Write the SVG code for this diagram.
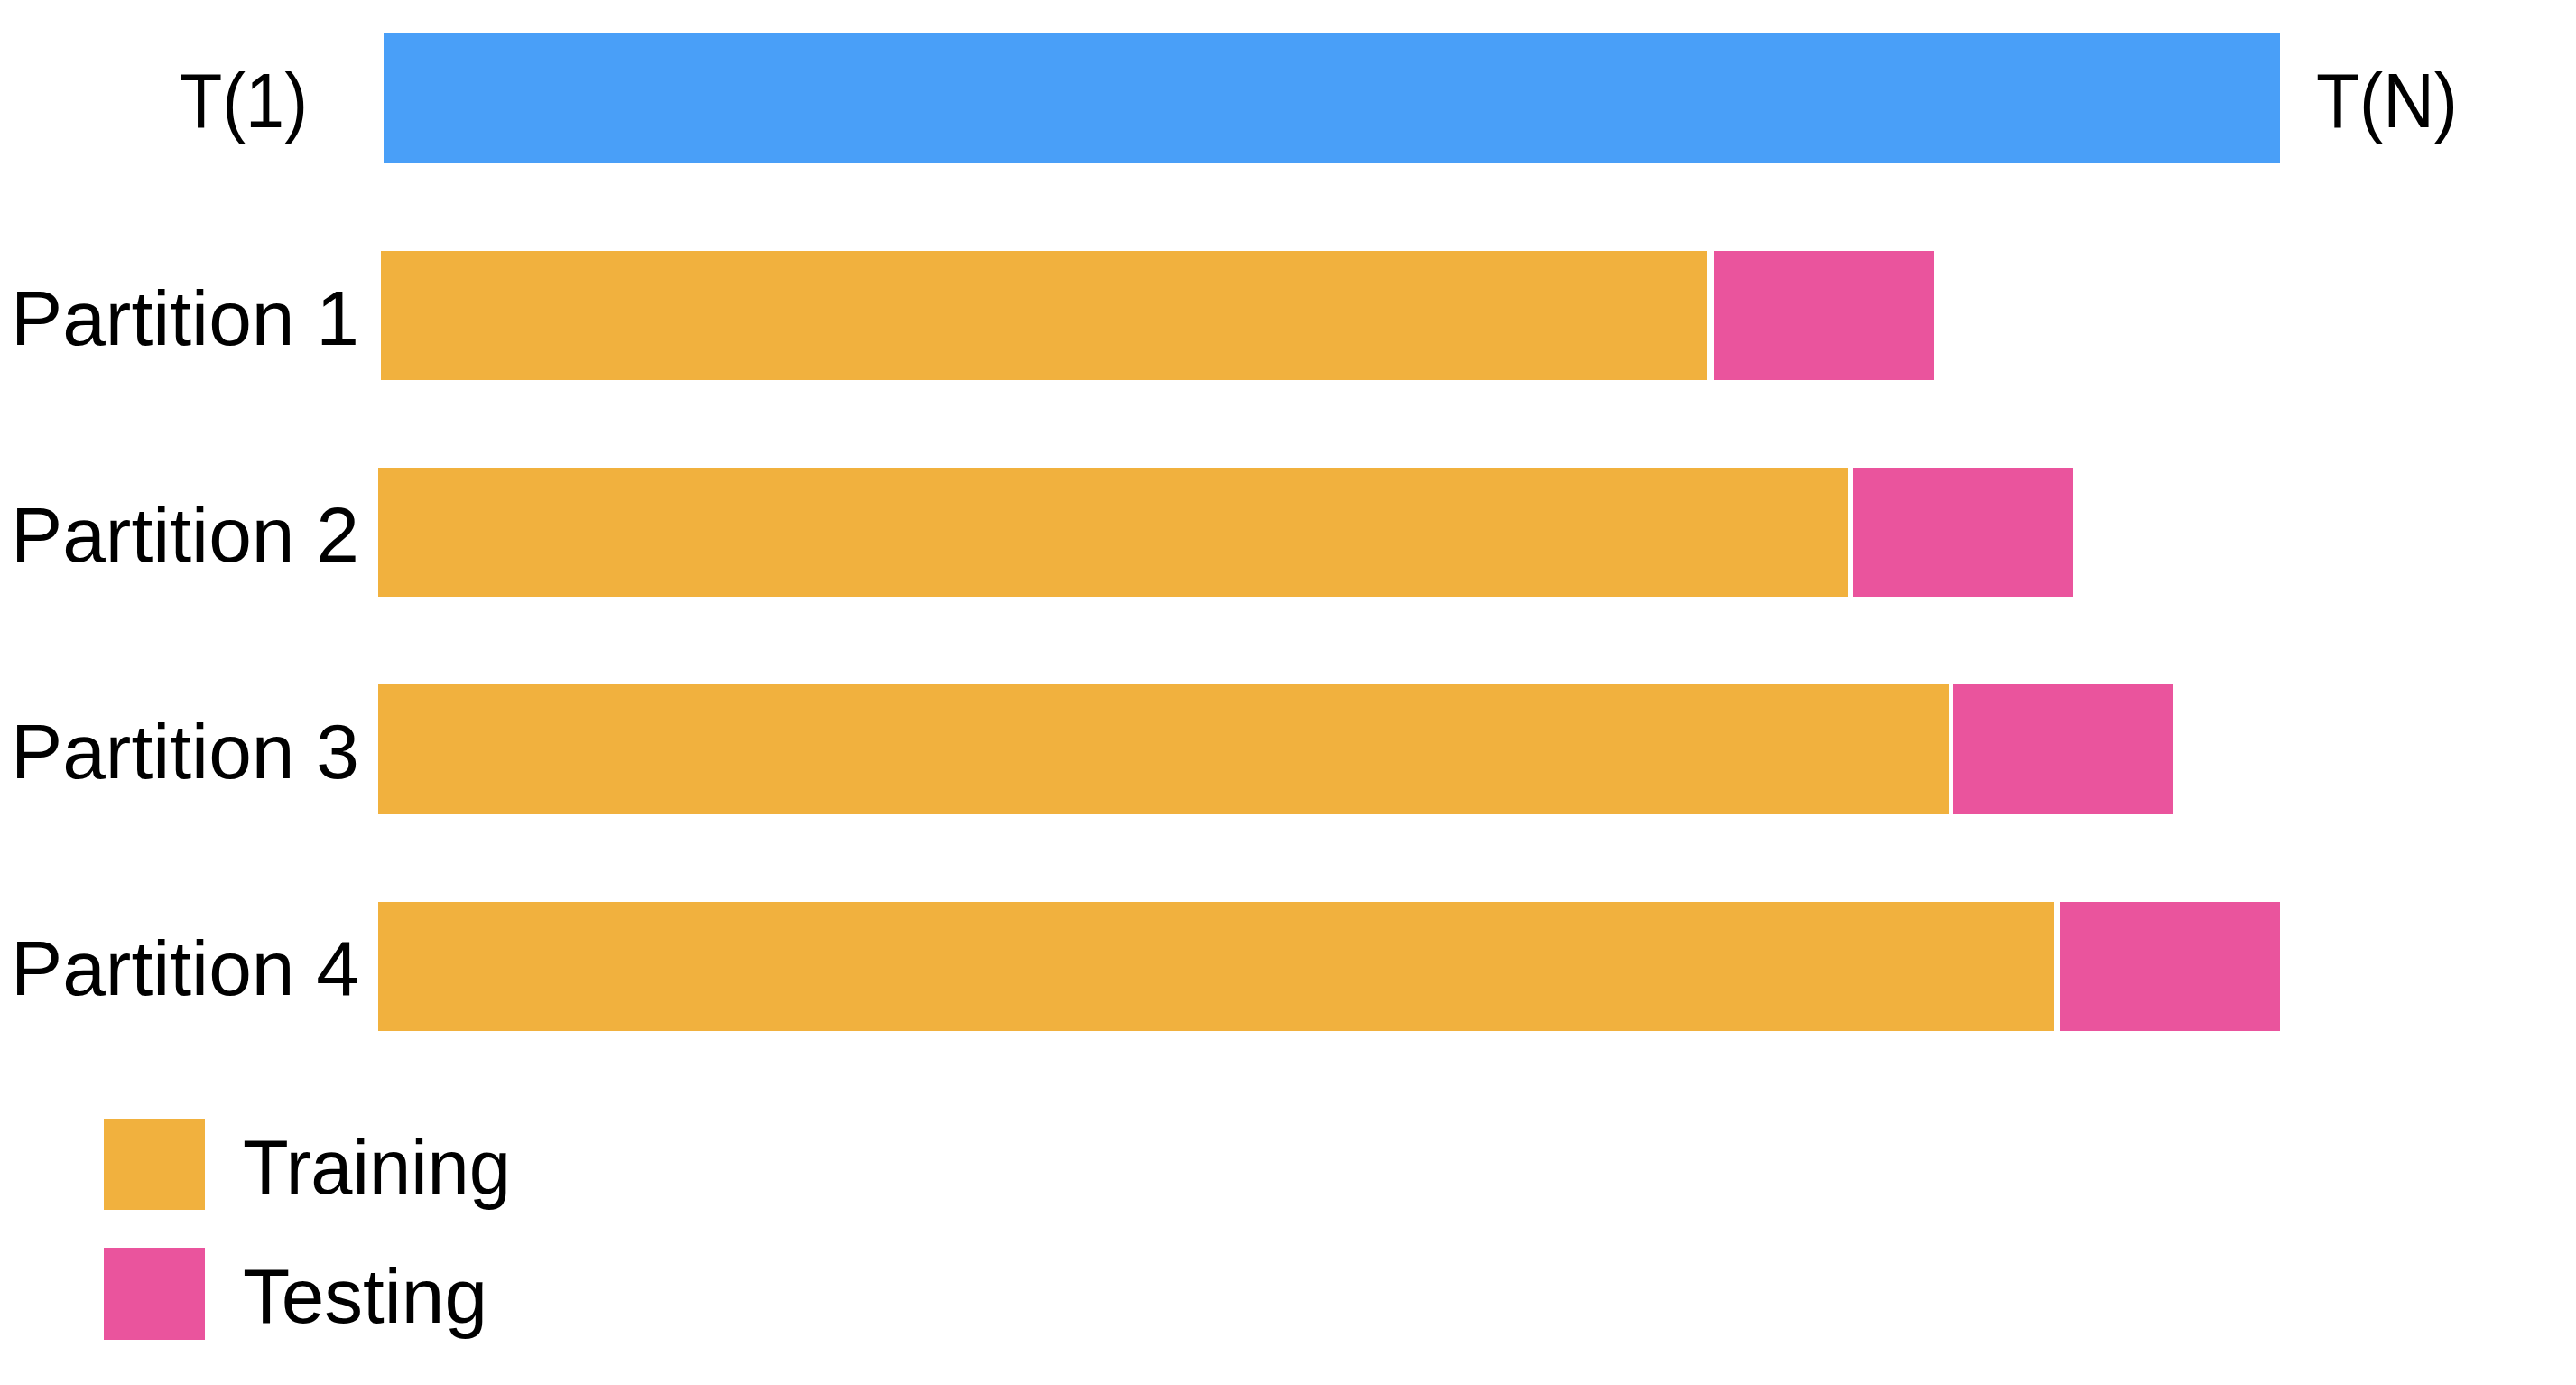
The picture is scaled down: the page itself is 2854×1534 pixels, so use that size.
<svg xmlns="http://www.w3.org/2000/svg" width="2854" height="1534" viewBox="0 0 2854 1534">
  <style>
    .lbl { font-family: "Liberation Sans", Arial, Helvetica, sans-serif; font-size: 86px; fill: #000; }
    .timeline { fill: #499FF8; }
    .train { fill: #F1B13E; }
    .test { fill: #EA549D; }
  </style>
  <rect x="0" y="0" width="2854" height="1534" fill="#FFFFFF"/>
  <g id="timeline">
    <rect class="timeline" x="425" y="37" width="2101" height="144"/>
    <text class="lbl" x="199" y="141" textLength="142" lengthAdjust="spacingAndGlyphs">T(1)</text>
    <text class="lbl" x="2566" y="141" textLength="157" lengthAdjust="spacingAndGlyphs">T(N)</text>
  </g>
  <g id="partition1">
    <text class="lbl" x="12" y="382" textLength="386" lengthAdjust="spacingAndGlyphs">Partition 1</text>
    <rect class="train" x="422" y="278" width="1469" height="143"/>
    <rect class="test" x="1899" y="278" width="244" height="143"/>
  </g>
  <g id="partition2">
    <text class="lbl" x="12" y="622" textLength="386" lengthAdjust="spacingAndGlyphs">Partition 2</text>
    <rect class="train" x="419" y="518" width="1628" height="143"/>
    <rect class="test" x="2053" y="518" width="244" height="143"/>
  </g>
  <g id="partition3">
    <text class="lbl" x="12" y="862" textLength="386" lengthAdjust="spacingAndGlyphs">Partition 3</text>
    <rect class="train" x="419" y="758" width="1740" height="144"/>
    <rect class="test" x="2164" y="758" width="244" height="144"/>
  </g>
  <g id="partition4">
    <text class="lbl" x="12" y="1102" textLength="386" lengthAdjust="spacingAndGlyphs">Partition 4</text>
    <rect class="train" x="419" y="999" width="1857" height="143"/>
    <rect class="test" x="2282" y="999" width="244" height="143"/>
  </g>
  <g id="legend">
    <g id="legend-training">
      <rect class="train" x="115" y="1239" width="112" height="101"/>
      <text class="lbl" x="269" y="1322" textLength="297" lengthAdjust="spacingAndGlyphs">Training</text>
    </g>
    <g id="legend-testing">
      <rect class="test" x="115" y="1382" width="112" height="102"/>
      <text class="lbl" x="269" y="1465" textLength="271" lengthAdjust="spacingAndGlyphs">Testing</text>
    </g>
  </g>
  <g id="connectors"/>
</svg>
